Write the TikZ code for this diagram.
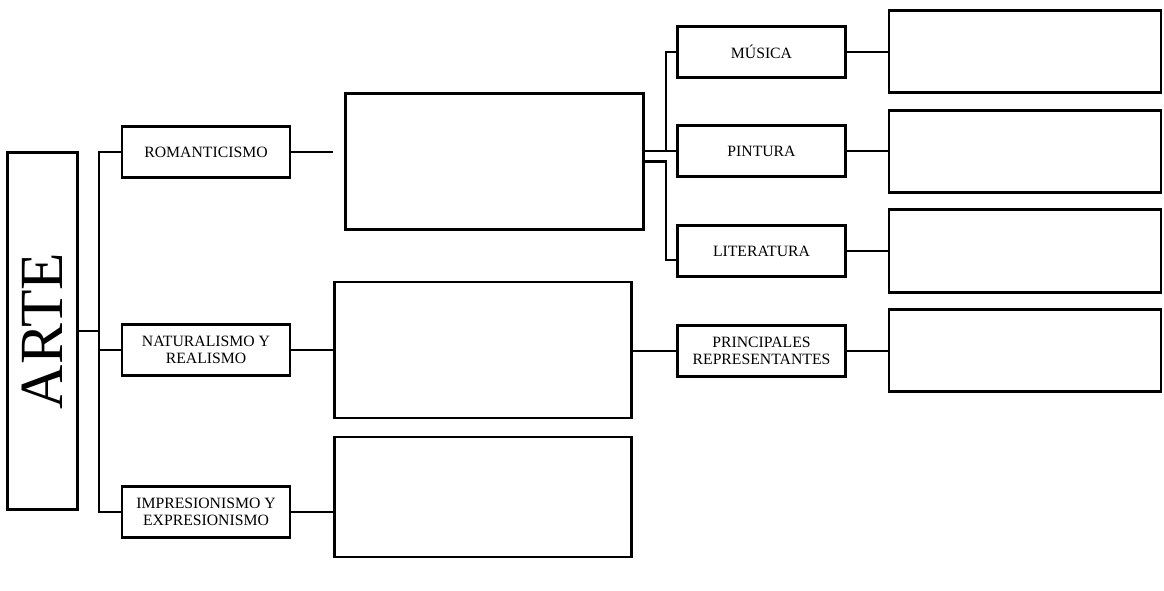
\documentclass[tikz,border=0pt]{standalone}
\usepackage{fontspec}
\setmainfont{Liberation Serif}
\begin{document}
\begin{tikzpicture}[x=0.75pt, y=-0.75pt,
    link/.style={line width=1.7pt},
    box/.style={draw, line width=2.1pt, inner sep=0pt, align=center, font=\fontsize{11.8}{12.5}\selectfont},
    labelbox/.style={box, minimum width=126pt, minimum height=38pt},
    bigbox/.style={box, minimum width=223pt, minimum height=102pt},
    endbox/.style={box, minimum width=204pt, minimum height=62pt}]
            \useasboundingbox (0,0) rectangle (1164,590);
            \node[box, minimum width=52pt, minimum height=268pt, font=\fontsize{46}{46}\selectfont] (arte) at (42.5,331) {\rotatebox{90}{ARTE}};
            \node[labelbox] (rom) at (206,152) {ROMANTICISMO};
            \node[labelbox] (nat) at (206,350) {NATURALISMO Y\\REALISMO};
            \node[labelbox] (imp) at (206,512) {IMPRESIONISMO Y\\EXPRESIONISMO};
            \node[bigbox] (big1) at (494.5,161.5) {};
            \node[bigbox] (big2) at (483,350) {};
            \node[bigbox, minimum height=90pt] (big3) at (483,497) {};
            \node[labelbox] (mus) at (761.5,52) {MÚSICA};
            \node[labelbox] (pin) at (761.5,151) {PINTURA};
            \node[labelbox] (lit) at (761.5,251) {LITERATURA};
            \node[labelbox] (pri) at (761.5,351) {PRINCIPALES\\REPRESENTANTES};
            \node[endbox] (end1) at (1025,51.5) {};
            \node[endbox] (end2) at (1025,151.5) {};
            \node[endbox] (end3) at (1025,251) {};
            \node[endbox] (end4) at (1025,350.5) {};
            \coordinate (b1) at (99,152);
            \coordinate (b2) at (99,512);
            \coordinate (romend) at (333,152);
            \coordinate (k1) at (666,52);
            \coordinate (k2) at (666,260);
            \draw[link] (arte.east) -- (arte.east -| b1);
            \draw[link] (rom.west) -- (b1) -- (b2) -- (imp.west);
            \draw[link] (nat.west) -- (nat.west -| b1);
            \draw[link] (rom.east) -- (romend);
            \draw[link] (nat.east) -- (nat.east -| big2.west);
            \draw[link] (imp.east) -- (imp.east -| big3.west);
            \draw[link] (big2.east |- pri.west) -- (pri.west);
            \draw[link] (big1.east |- pin.west) -- (pin.west);
            \draw[link] (mus.west) -- (k1) -- (k1 |- pin.west);
            \draw[link] (big1.east) -| (k2) -- (k2 -| lit.west);
            \draw[link] (mus.east) -- (mus.east -| end1.west);
            \draw[link] (pin.east) -- (pin.east -| end2.west);
            \draw[link] (lit.east) -- (lit.east -| end3.west);
            \draw[link] (pri.east) -- (pri.east -| end4.west);
        \end{tikzpicture}
\end{document}
